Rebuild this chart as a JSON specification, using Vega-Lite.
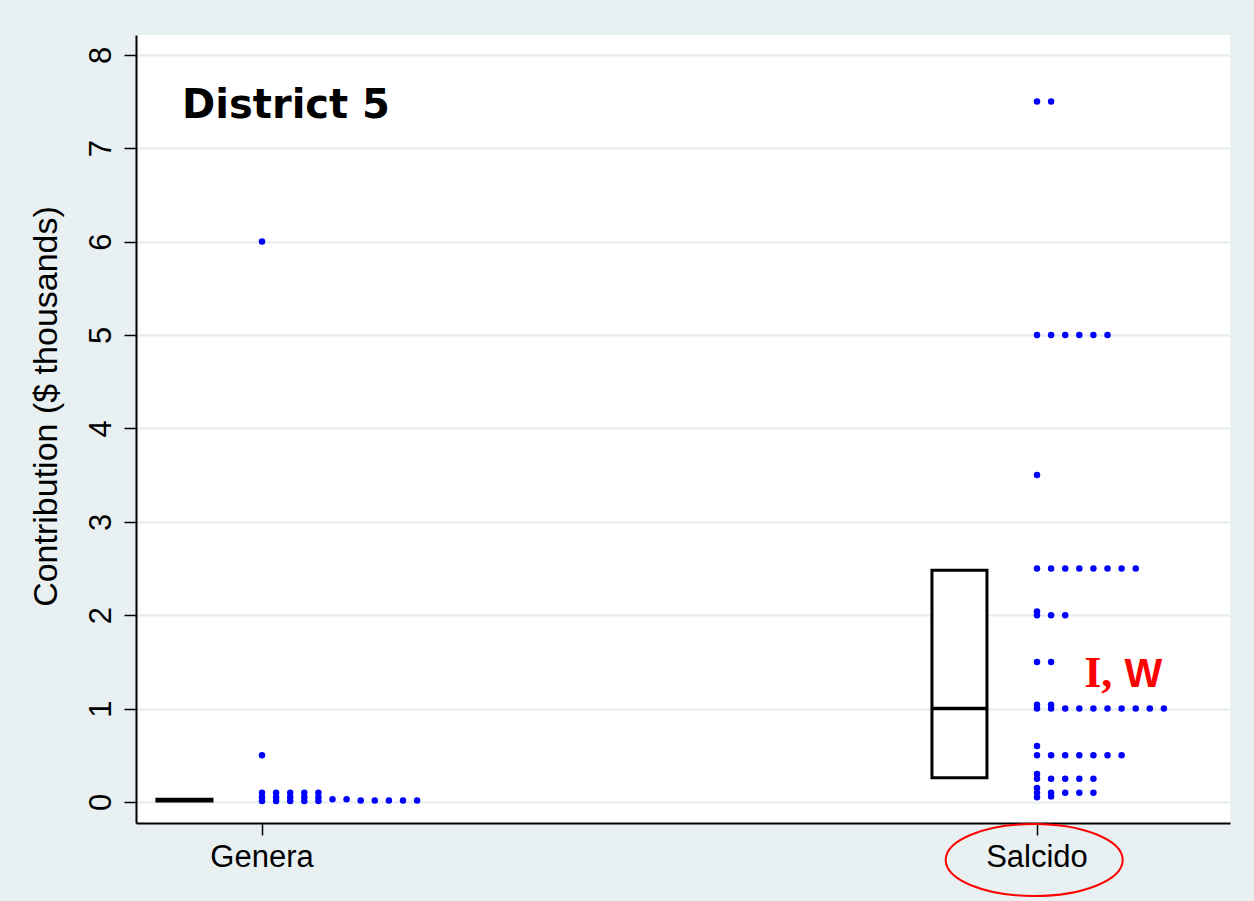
{
  "$schema": "https://vega.github.io/schema/vega-lite/v6.json",
  "width": 1094,
  "height": 788,
  "autosize": "none",
  "padding": {"left": 136, "top": 35, "right": 24, "bottom": 78},
  "background": "#e9f0f2",
  "config": {
    "view": {"fill": "white", "stroke": null},
    "font": "Liberation Sans",
    "axis": {
      "labelFont": "Liberation Sans", "labelFontSize": 31, "labelColor": "black",
      "titleFont": "Liberation Sans", "titleFontSize": 34, "titleFontWeight": "normal", "titleColor": "black",
      "tickSize": 12, "tickColor": "black", "tickWidth": 1.5,
      "domainColor": "black", "domainWidth": 2
    },
    "axisX": {"labelAngle": 0, "labelPadding": 31, "labelBaseline": "alphabetic", "grid": false},
    "axisY": {
      "tickCount": 9,
      "titleAngle": -90, "titleAlign": "center", "titleBaseline": "alphabetic", "titleX": -80, "titleY": 371,
      "labelAngle": -90, "labelAlign": "center", "labelBaseline": "alphabetic", "labelPadding": 14,
      "labelFlush": false, "labelOverlap": false,
      "grid": true, "gridColor": "#e4ecee", "gridWidth": 2
    }
  },
  "datasets": {
    "dots": [
      {"candidate": "Genera", "amount": 6.0, "slot": 0},
      {"candidate": "Genera", "amount": 0.5, "slot": 0},
      {"candidate": "Genera", "amount": 0.1, "slot": 0},
      {"candidate": "Genera", "amount": 0.1, "slot": 1},
      {"candidate": "Genera", "amount": 0.1, "slot": 2},
      {"candidate": "Genera", "amount": 0.1, "slot": 3},
      {"candidate": "Genera", "amount": 0.1, "slot": 4},
      {"candidate": "Genera", "amount": 0.05, "slot": 0},
      {"candidate": "Genera", "amount": 0.05, "slot": 1},
      {"candidate": "Genera", "amount": 0.05, "slot": 2},
      {"candidate": "Genera", "amount": 0.05, "slot": 3},
      {"candidate": "Genera", "amount": 0.05, "slot": 4},
      {"candidate": "Genera", "amount": 0.01, "slot": 0},
      {"candidate": "Genera", "amount": 0.01, "slot": 1},
      {"candidate": "Genera", "amount": 0.01, "slot": 2},
      {"candidate": "Genera", "amount": 0.01, "slot": 3},
      {"candidate": "Genera", "amount": 0.01, "slot": 4},
      {"candidate": "Genera", "amount": 0.03, "slot": 5},
      {"candidate": "Genera", "amount": 0.03, "slot": 6},
      {"candidate": "Genera", "amount": 0.015, "slot": 7},
      {"candidate": "Genera", "amount": 0.015, "slot": 8},
      {"candidate": "Genera", "amount": 0.015, "slot": 9},
      {"candidate": "Genera", "amount": 0.015, "slot": 10},
      {"candidate": "Genera", "amount": 0.015, "slot": 11},
      {"candidate": "Salcido", "amount": 7.5, "slot": 0},
      {"candidate": "Salcido", "amount": 7.5, "slot": 1},
      {"candidate": "Salcido", "amount": 5.0, "slot": 0},
      {"candidate": "Salcido", "amount": 5.0, "slot": 1},
      {"candidate": "Salcido", "amount": 5.0, "slot": 2},
      {"candidate": "Salcido", "amount": 5.0, "slot": 3},
      {"candidate": "Salcido", "amount": 5.0, "slot": 4},
      {"candidate": "Salcido", "amount": 5.0, "slot": 5},
      {"candidate": "Salcido", "amount": 3.5, "slot": 0},
      {"candidate": "Salcido", "amount": 2.5, "slot": 0},
      {"candidate": "Salcido", "amount": 2.5, "slot": 1},
      {"candidate": "Salcido", "amount": 2.5, "slot": 2},
      {"candidate": "Salcido", "amount": 2.5, "slot": 3},
      {"candidate": "Salcido", "amount": 2.5, "slot": 4},
      {"candidate": "Salcido", "amount": 2.5, "slot": 5},
      {"candidate": "Salcido", "amount": 2.5, "slot": 6},
      {"candidate": "Salcido", "amount": 2.5, "slot": 7},
      {"candidate": "Salcido", "amount": 2.04, "slot": 0},
      {"candidate": "Salcido", "amount": 2.0, "slot": 0},
      {"candidate": "Salcido", "amount": 2.0, "slot": 1},
      {"candidate": "Salcido", "amount": 2.0, "slot": 2},
      {"candidate": "Salcido", "amount": 1.5, "slot": 0},
      {"candidate": "Salcido", "amount": 1.5, "slot": 1},
      {"candidate": "Salcido", "amount": 1.04, "slot": 0},
      {"candidate": "Salcido", "amount": 1.04, "slot": 1},
      {"candidate": "Salcido", "amount": 1.0, "slot": 0},
      {"candidate": "Salcido", "amount": 1.0, "slot": 1},
      {"candidate": "Salcido", "amount": 1.0, "slot": 2},
      {"candidate": "Salcido", "amount": 1.0, "slot": 3},
      {"candidate": "Salcido", "amount": 1.0, "slot": 4},
      {"candidate": "Salcido", "amount": 1.0, "slot": 5},
      {"candidate": "Salcido", "amount": 1.0, "slot": 6},
      {"candidate": "Salcido", "amount": 1.0, "slot": 7},
      {"candidate": "Salcido", "amount": 1.0, "slot": 8},
      {"candidate": "Salcido", "amount": 1.0, "slot": 9},
      {"candidate": "Salcido", "amount": 0.6, "slot": 0},
      {"candidate": "Salcido", "amount": 0.5, "slot": 0},
      {"candidate": "Salcido", "amount": 0.5, "slot": 1},
      {"candidate": "Salcido", "amount": 0.5, "slot": 2},
      {"candidate": "Salcido", "amount": 0.5, "slot": 3},
      {"candidate": "Salcido", "amount": 0.5, "slot": 4},
      {"candidate": "Salcido", "amount": 0.5, "slot": 5},
      {"candidate": "Salcido", "amount": 0.5, "slot": 6},
      {"candidate": "Salcido", "amount": 0.3, "slot": 0},
      {"candidate": "Salcido", "amount": 0.25, "slot": 0},
      {"candidate": "Salcido", "amount": 0.25, "slot": 1},
      {"candidate": "Salcido", "amount": 0.25, "slot": 2},
      {"candidate": "Salcido", "amount": 0.25, "slot": 3},
      {"candidate": "Salcido", "amount": 0.25, "slot": 4},
      {"candidate": "Salcido", "amount": 0.15, "slot": 0},
      {"candidate": "Salcido", "amount": 0.1, "slot": 0},
      {"candidate": "Salcido", "amount": 0.1, "slot": 1},
      {"candidate": "Salcido", "amount": 0.1, "slot": 2},
      {"candidate": "Salcido", "amount": 0.1, "slot": 3},
      {"candidate": "Salcido", "amount": 0.1, "slot": 4},
      {"candidate": "Salcido", "amount": 0.05, "slot": 0},
      {"candidate": "Salcido", "amount": 0.06, "slot": 1}
    ],
    "boxes": [
      {"candidate": "Genera", "q1": 0.01, "median": 0.02, "q3": 0.03},
      {"candidate": "Salcido", "q1": 0.26, "median": 1.0, "q3": 2.48}
    ]
  },
  "layer": [
    {
      "data": {"name": "dots"},
      "mark": {"type": "circle", "size": 42, "color": "#0000ff", "opacity": 1},
      "encoding": {
        "x": {
          "field": "candidate", "type": "nominal", "title": null,
          "scale": {"type": "band", "domain": ["Genera", "Salcido"], "paddingInner": 1, "paddingOuter": 0.2058, "align": 0.395}
        },
        "xOffset": {"field": "slot", "type": "quantitative", "scale": {"domain": [0, 10], "range": [0, 141]}},
        "y": {
          "field": "amount", "type": "quantitative", "title": "Contribution ($ thousands)",
          "scale": {"domain": [-0.225, 8.212], "nice": false, "zero": false},
          "axis": {"values": [0, 1, 2, 3, 4, 5, 6, 7, 8]}
        }
      }
    },
    {
      "data": {"name": "boxes"},
      "mark": {"type": "bar", "width": 55, "fill": "white", "stroke": "black", "strokeWidth": 3},
      "encoding": {
        "x": {"field": "candidate", "type": "nominal", "title": null},
        "xOffset": {"datum": -5.5, "type": "quantitative", "scale": {"domain": [0, 10], "range": [0, 141]}},
        "y": {"field": "q1", "type": "quantitative", "title": "Contribution ($ thousands)"},
        "y2": {"field": "q3"}
      }
    },
    {
      "data": {"name": "boxes"},
      "mark": {"type": "tick", "size": 57, "thickness": 3.5, "color": "black", "opacity": 1},
      "encoding": {
        "x": {"field": "candidate", "type": "nominal", "title": null},
        "xOffset": {"datum": -5.5, "type": "quantitative", "scale": {"domain": [0, 10], "range": [0, 141]}},
        "y": {"field": "median", "type": "quantitative", "title": "Contribution ($ thousands)"}
      }
    },
    {
      "data": {"values": [{"label": "District 5"}]},
      "mark": {"type": "text", "font": "DejaVu Sans", "fontWeight": "bold", "fontSize": 40, "align": "left", "baseline": "alphabetic", "color": "black"},
      "encoding": {
        "x": {"datum": "Genera", "type": "nominal", "title": null},
        "xOffset": {"datum": -5.67, "type": "quantitative", "scale": {"domain": [0, 10], "range": [0, 141]}},
        "y": {"datum": 7.327, "type": "quantitative", "title": "Contribution ($ thousands)"},
        "text": {"field": "label"}
      }
    },
    {
      "data": {"values": [{"label": "I,"}]},
      "mark": {"type": "text", "font": "Liberation Serif", "fontWeight": "bold", "fontSize": 44, "align": "left", "baseline": "alphabetic", "color": "#ff0000"},
      "encoding": {
        "x": {"datum": "Salcido", "type": "nominal", "title": null},
        "xOffset": {"datum": 3.35, "type": "quantitative", "scale": {"domain": [0, 10], "range": [0, 141]}},
        "y": {"datum": 1.231, "type": "quantitative", "title": "Contribution ($ thousands)"},
        "text": {"field": "label"}
      }
    },
    {
      "data": {"values": [{"label": "W"}]},
      "mark": {"type": "text", "font": "Liberation Sans", "fontWeight": "bold", "fontSize": 40, "align": "left", "baseline": "alphabetic", "color": "#ff0000"},
      "encoding": {
        "x": {"datum": "Salcido", "type": "nominal", "title": null},
        "xOffset": {"datum": 6.2, "type": "quantitative", "scale": {"domain": [0, 10], "range": [0, 141]}},
        "y": {"datum": 1.231, "type": "quantitative", "title": "Contribution ($ thousands)"},
        "text": {"field": "label"}
      }
    },
    {
      "data": {"values": [{"label": "circle"}]},
      "mark": {"type": "point", "shape": "M-1,0A1,0.407,0,1,0,1,0A1,0.407,0,1,0,-1,0Z", "size": 31329, "filled": false, "stroke": "#ff0000", "strokeWidth": 2, "opacity": 1},
      "encoding": {
        "x": {"datum": "Salcido", "type": "nominal", "title": null},
        "xOffset": {"datum": -0.2, "type": "quantitative", "scale": {"domain": [0, 10], "range": [0, 141]}},
        "y": {"datum": -0.621, "type": "quantitative", "title": "Contribution ($ thousands)"}
      }
    }
  ]
}
